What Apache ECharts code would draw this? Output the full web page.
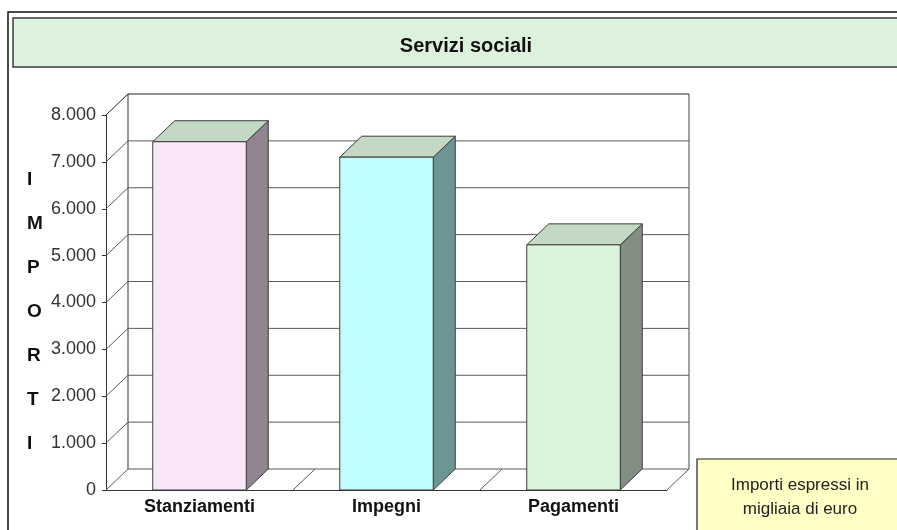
<!DOCTYPE html>
<html>
<head>
<meta charset="utf-8">
<script src="https://cdn.jsdelivr.net/npm/echarts@6/dist/echarts.min.js"></script>
<style>
  html, body { margin: 0; padding: 0; background: #fff; }
  #chart { width: 897px; height: 530px; }
</style>
</head>
<body>
<div id="chart"></div>
<script>
// dati (migliaia di euro)
const categories = ['Stanziamenti', 'Impegni', 'Pagamenti'];
const values = [7430, 7100, 5230];
const yTicks = [0, 1000, 2000, 3000, 4000, 5000, 6000, 7000, 8000];
const axisTitle = ['I', 'M', 'P', 'O', 'R', 'T', 'I'];
const noteLines = ['Importi espressi in', 'migliaia di euro'];

// stile
const frontColors = ['#f9e6f9', '#c0fdfd', '#dcf3dc'];
const sideColors = ['#8f8490', '#6e9595', '#828e82'];
const topColor = '#c3d9c3';
const DX = 22, DY = -21; // profondita' 3D
const FONT = 'Liberation Sans, Arial, sans-serif';

const fmt = v => String(v).replace(/\B(?=(\d{3})+(?!\d))/g, '.');

let chart = echarts.init(document.getElementById('chart'));

chart.setOption({
  backgroundColor: '#fff',
  animation: false,
  title: {
    text: 'Servizi sociali',
    left: 461,
    top: 31,
    textAlign: 'center',
    textStyle: { fontFamily: FONT, fontSize: 20, fontWeight: 'bold', color: '#111' }
  },
  graphic: [
    { type: 'rect', z: -10, shape: { x: 8, y: 12, width: 1000, height: 1000 },
      style: { fill: null, stroke: '#111', lineWidth: 1.5 } },
    { type: 'rect', z: -9, shape: { x: 13, y: 18, width: 1000, height: 49 },
      style: { fill: '#dcf2dc', stroke: '#3a3a3a', lineWidth: 1.5 } },
    { type: 'text', left: 27, top: 158,
      style: { text: axisTitle.join('\n'), font: 'bold 19px ' + FONT, fill: '#111',
               lineHeight: 44, align: 'center' } },
    { type: 'rect', shape: { x: 697, y: 459, width: 250, height: 100 },
      style: { fill: '#ffffc6', stroke: '#222', lineWidth: 1.2 } },
    { type: 'text', x: 800, y: 473,
      style: { text: noteLines.join('\n'), font: '17px ' + FONT, fill: '#222',
               lineHeight: 24, align: 'center' } }
  ],
  grid: { left: 106, right: 230, top: 115, bottom: 40 },
  xAxis: {
    type: 'category',
    data: categories,
    axisLine: { lineStyle: { color: '#333', width: 1 } },
    axisTick: { length: 13, lineStyle: { color: '#555' } },
    axisLabel: { margin: 8, fontFamily: FONT, fontSize: 18, fontWeight: 'bold', color: '#111' },
    splitLine: { show: false }
  },
  yAxis: {
    type: 'value',
    min: 0,
    max: 8000,
    interval: 1000,
    axisLine: { show: true, lineStyle: { color: '#333', width: 1 } },
    axisTick: { show: true, length: 4, lineStyle: { color: '#333' } },
    axisLabel: { margin: 10, fontFamily: FONT, fontSize: 18, color: '#333', formatter: fmt },
    splitLine: { show: false }
  },
  series: [
    {
      // pareti: griglia laterale e di fondo
      type: 'custom',
      silent: true,
      data: yTicks.map(v => [0, v]),
      renderItem: (params, api) => {
        let cs = params.coordSys;
        let v = api.value(1);
        let y = api.coord([0, v])[1];
        let x0 = cs.x, x1 = cs.x + cs.width;
        let edge = v === yTicks[yTicks.length - 1];
        let col = edge ? '#222' : '#5a5a5a';
        let children = [
          { type: 'line', shape: { x1: x0, y1: y, x2: x0 + DX, y2: y + DY },
            style: { stroke: col, lineWidth: 1 } },
          { type: 'line', shape: { x1: x0 + DX, y1: y + DY, x2: x1 + DX, y2: y + DY },
            style: { stroke: col, lineWidth: 1 } }
        ];
        if (params.dataIndex === 0) {
          children.push(
            { type: 'line', shape: { x1: x0 + DX, y1: cs.y + DY, x2: x0 + DX, y2: cs.y + cs.height + DY },
              style: { stroke: '#333', lineWidth: 1 } },
            { type: 'line', shape: { x1: x1 + DX, y1: cs.y + DY, x2: x1 + DX, y2: cs.y + cs.height + DY },
              style: { stroke: '#444', lineWidth: 1 } }
          );
        }
        return { type: 'group', children: children };
      }
    },
    {
      // pavimento: diagonali sui confini delle categorie
      type: 'custom',
      silent: true,
      data: categories.map((c, i) => [i, 0]),
      renderItem: (params, api) => {
        let p = api.coord([api.value(0), 0]);
        let xr = p[0] + api.size([1, 0])[0] / 2;
        return { type: 'line', shape: { x1: xr, y1: p[1], x2: xr + DX, y2: p[1] + DY },
                 style: { stroke: '#5a5a5a', lineWidth: 1 } };
      }
    },
    {
      // barre 3D
      type: 'custom',
      data: values.map((v, i) => [i, v]),
      renderItem: (params, api) => {
        let i = api.value(0);
        let top = api.coord([i, api.value(1)]);
        let base = api.coord([i, 0]);
        let w = api.size([1, 0])[0] * 0.5;
        let xl = top[0] - w / 2, xr = top[0] + w / 2;
        let yt = top[1], yb = base[1];
        let stroke = { stroke: '#3c3c3c', lineWidth: 1 };
        return {
          type: 'group',
          children: [
            { type: 'polygon',
              shape: { points: [[xr, yt], [xr + DX, yt + DY], [xr + DX, yb + DY], [xr, yb]] },
              style: Object.assign({ fill: sideColors[i] }, stroke) },
            { type: 'polygon',
              shape: { points: [[xl, yt], [xl + DX, yt + DY], [xr + DX, yt + DY], [xr, yt]] },
              style: Object.assign({ fill: topColor }, stroke) },
            { type: 'rect',
              shape: { x: xl, y: yt, width: w, height: yb - yt },
              style: Object.assign({ fill: frontColors[i] }, stroke) }
          ]
        };
      }
    }
  ]
});
</script>
</body>
</html>
